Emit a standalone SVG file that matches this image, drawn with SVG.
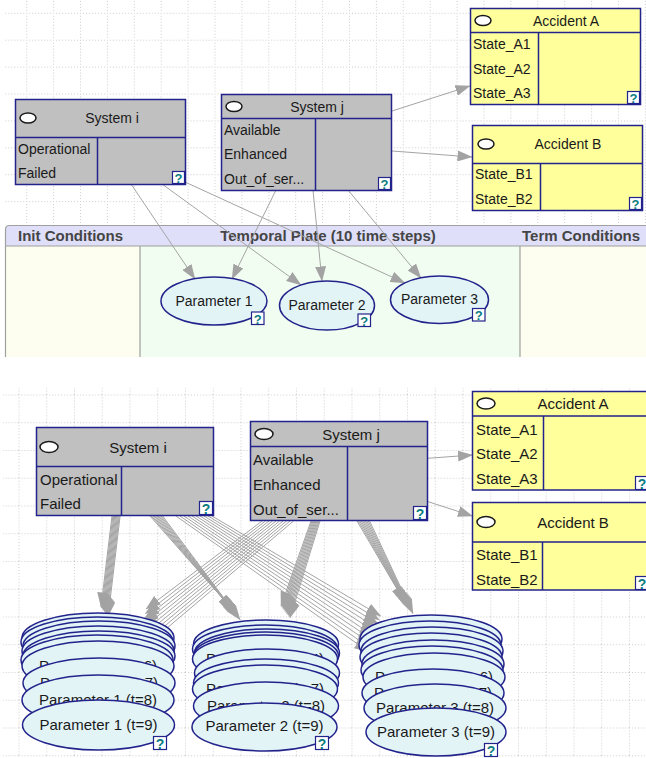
<svg xmlns="http://www.w3.org/2000/svg" width="646" height="758" viewBox="0 0 646 758">
<style>
.t{font-family:"Liberation Sans",Arial,sans-serif;fill:#1a1a1a}
.s14{font-size:14px}
.s15{font-size:15px}
.mid{text-anchor:middle}
.ph{font-family:"Liberation Sans",Arial,sans-serif;font-size:15px;font-weight:bold;fill:#454545}
.q{font-family:"Liberation Sans",Arial,sans-serif;font-weight:bold;fill:#0b7c80;text-anchor:middle}
.sys{fill:#c0c0c0;stroke:#23238c;stroke-width:1.5}
.acc{fill:#ffff9c;stroke:#23238c;stroke-width:1.5}
.sep{fill:none;stroke:#23238c;stroke-width:1.5}
.par{fill:#e3f4f7;stroke:#23238c;stroke-width:1.5}
.qb{fill:#ffffff;stroke:#23238c;stroke-width:1.2}
.oval{fill:#ffffff;stroke:#1a1a1a;stroke-width:1.5}
.ln{stroke:#a4a4a4;stroke-width:1;fill:none;marker-end:url(#ah)}
.pl{stroke:#a0a0a0;stroke-width:1.2;fill:none}
</style>
<defs>
<marker id="ah" viewBox="0 0 15 11" refX="14.5" refY="5.5" markerWidth="15" markerHeight="11" orient="auto" markerUnits="userSpaceOnUse">
<path d="M0,0 L15,5.5 L0,11 z" fill="#a3a3a3"/>
</marker>
<pattern id="gridT" x="26.2" y="12.8" width="26.9" height="26.9" patternUnits="userSpaceOnUse">
<path d="M0,0.5 H26.9 M0.5,0 V26.9" stroke="#cdcdcd" stroke-width="1" stroke-dasharray="1 2" fill="none"/>
</pattern>
<pattern id="gridB" x="18.5" y="394.5" width="27.75" height="27.75" patternUnits="userSpaceOnUse">
<path d="M0,0.5 H27.75 M0.5,0 V27.75" stroke="#cdcdcd" stroke-width="1" stroke-dasharray="1 2" fill="none"/>
</pattern>
</defs>
<rect x="0" y="0" width="646" height="758" fill="#ffffff"/>
<rect x="4" y="0" width="642" height="225" fill="url(#gridT)"/>
<rect x="3" y="388" width="643" height="370" fill="url(#gridB)"/>

<g id="plate">
<rect x="5.5" y="246" width="134.5" height="111" fill="#fefef0"/>
<rect x="140" y="246" width="380" height="111" fill="#f0fdf0"/>
<rect x="520" y="246" width="126" height="111" fill="#fefef0"/>
<path d="M5.5,246 V229.5 Q5.5,225.5 9.5,225.5 H646 V246 Z" fill="#dfdff9"/>
<path class="pl" d="M5.5,357 V229.5 Q5.5,225.5 9.5,225.5 H646 M5.5,246 H646 M140,246 V357 M520,246 V357"/>
<text class="ph" x="18" y="240.5">Init Conditions</text>
<text class="ph" x="328" y="240.5" text-anchor="middle">Temporal Plate (10 time steps)</text>
<text class="ph" x="522" y="240.5">Term Conditions</text>
</g>

<g id="connectors">
<line class="ln" x1="392" y1="111" x2="470" y2="86"/>
<line class="ln" x1="392" y1="151" x2="472" y2="157"/>
<line class="ln" x1="131" y1="184" x2="195" y2="279"/>
<line class="ln" x1="276" y1="190" x2="232" y2="279"/>
<line class="ln" x1="162" y1="184" x2="301" y2="285"/>
<line class="ln" x1="313" y1="190" x2="322" y2="281"/>
<line class="ln" x1="185" y1="182" x2="405" y2="283"/>
<line class="ln" x1="348" y1="190" x2="421" y2="278"/>

<line class="ln" x1="427.5" y1="458.3" x2="472.5" y2="455"/>
<line class="ln" x1="427.5" y1="501.5" x2="472.5" y2="516"/>

<line class="ln" x1="112" y1="516" x2="101" y2="607"/>
<line class="ln" x1="112.9" y1="516" x2="101.8" y2="608"/>
<line class="ln" x1="113.8" y1="516" x2="102.6" y2="609"/>
<line class="ln" x1="114.7" y1="516" x2="103.4" y2="610"/>
<line class="ln" x1="115.6" y1="516" x2="104.2" y2="611"/>
<line class="ln" x1="116.5" y1="516" x2="105" y2="612"/>
<line class="ln" x1="117.4" y1="516" x2="105.8" y2="613"/>
<line class="ln" x1="118.3" y1="516" x2="106.6" y2="614"/>
<line class="ln" x1="119.2" y1="516" x2="107.4" y2="615"/>
<line class="ln" x1="120.1" y1="516" x2="108.2" y2="616"/>

<line class="ln" x1="150" y1="516" x2="232" y2="609"/>
<line class="ln" x1="151.4" y1="516" x2="232.9" y2="610.2"/>
<line class="ln" x1="152.8" y1="516" x2="233.8" y2="611.4"/>
<line class="ln" x1="154.2" y1="516" x2="234.7" y2="612.6"/>
<line class="ln" x1="155.6" y1="516" x2="235.6" y2="613.8"/>
<line class="ln" x1="157" y1="516" x2="236.5" y2="615"/>
<line class="ln" x1="158.4" y1="516" x2="237.4" y2="616.2"/>
<line class="ln" x1="159.8" y1="516" x2="238.3" y2="617.4"/>
<line class="ln" x1="161.2" y1="516" x2="239.2" y2="618.6"/>
<line class="ln" x1="162.6" y1="516" x2="240.1" y2="619.8"/>

<line class="ln" x1="176" y1="516" x2="369" y2="652"/>
<line class="ln" x1="180" y1="516" x2="370.3" y2="648"/>
<line class="ln" x1="184" y1="516" x2="371.6" y2="644"/>
<line class="ln" x1="188" y1="516" x2="372.9" y2="640"/>
<line class="ln" x1="192" y1="516" x2="374.2" y2="636"/>
<line class="ln" x1="196" y1="516" x2="375.5" y2="632"/>
<line class="ln" x1="200" y1="516" x2="376.8" y2="628"/>
<line class="ln" x1="204" y1="516" x2="378.1" y2="624"/>
<line class="ln" x1="208" y1="516" x2="379.4" y2="620"/>
<line class="ln" x1="212" y1="516" x2="380.7" y2="616"/>

<line class="ln" x1="262" y1="521" x2="146" y2="609"/>
<line class="ln" x1="265.5" y1="521" x2="145.4" y2="613.6"/>
<line class="ln" x1="269" y1="521" x2="144.8" y2="618.2"/>
<line class="ln" x1="272.5" y1="521" x2="144.2" y2="622.8"/>
<line class="ln" x1="276" y1="521" x2="143.6" y2="627.4"/>
<line class="ln" x1="279.5" y1="521" x2="143" y2="632"/>
<line class="ln" x1="283" y1="521" x2="142.4" y2="636.6"/>
<line class="ln" x1="286.5" y1="521" x2="141.8" y2="641.2"/>
<line class="ln" x1="290" y1="521" x2="141.2" y2="645.8"/>
<line class="ln" x1="293.5" y1="521" x2="140.6" y2="650.4"/>

<line class="ln" x1="311" y1="521" x2="281" y2="606"/>
<line class="ln" x1="312" y1="521" x2="282" y2="607.3"/>
<line class="ln" x1="313" y1="521" x2="283" y2="608.6"/>
<line class="ln" x1="314" y1="521" x2="284" y2="609.9"/>
<line class="ln" x1="315" y1="521" x2="285" y2="611.2"/>
<line class="ln" x1="316" y1="521" x2="286" y2="612.5"/>
<line class="ln" x1="317" y1="521" x2="287" y2="613.8"/>
<line class="ln" x1="318" y1="521" x2="288" y2="615.1"/>
<line class="ln" x1="319" y1="521" x2="289" y2="616.4"/>
<line class="ln" x1="320" y1="521" x2="290" y2="617.7"/>

<line class="ln" x1="357" y1="521" x2="404" y2="601"/>
<line class="ln" x1="358.4" y1="521" x2="405" y2="602.4"/>
<line class="ln" x1="359.8" y1="521" x2="406" y2="603.8"/>
<line class="ln" x1="361.2" y1="521" x2="407" y2="605.2"/>
<line class="ln" x1="362.6" y1="521" x2="408" y2="606.6"/>
<line class="ln" x1="364" y1="521" x2="409" y2="608"/>
<line class="ln" x1="365.4" y1="521" x2="410" y2="609.4"/>
<line class="ln" x1="366.8" y1="521" x2="411" y2="610.8"/>
<line class="ln" x1="368.2" y1="521" x2="412" y2="612.2"/>
<line class="ln" x1="369.6" y1="521" x2="413" y2="613.6"/>
</g>

<!-- top half nodes -->
<g id="system-i-top">
<rect class="sys" x="15.5" y="99.5" width="170" height="85"/>
<path class="sep" d="M15.5,137.5 H185.5 M97.5,137.5 V184.5"/>
<ellipse class="oval" cx="28" cy="118" rx="8" ry="5"/>
<text class="t s14 mid" x="112" y="123">System i</text>
<text class="t s14" x="18" y="154">Operational</text>
<text class="t s14" x="18" y="178">Failed</text>
<rect class="qb" x="172.5" y="171.5" width="12" height="12"/>
<text class="q" x="178.5" y="182.5" font-size="13">?</text>
</g>
<g id="system-j-top">
<rect class="sys" x="221.5" y="94.5" width="170" height="96"/>
<path class="sep" d="M221.5,118.5 H391.5 M315.5,118.5 V190.5"/>
<ellipse class="oval" cx="234" cy="106.5" rx="8" ry="5"/>
<text class="t s14 mid" x="317" y="111.5">System j</text>
<text class="t s14" x="224" y="135">Available</text>
<text class="t s14" x="224" y="159">Enhanced</text>
<text class="t s14" x="224" y="184">Out_of_ser...</text>
<rect class="qb" x="378.5" y="177.5" width="12" height="12"/>
<text class="q" x="384.5" y="188.5" font-size="13">?</text>
</g>
<g id="accident-a-top">
<rect class="acc" x="470.5" y="8.5" width="170" height="96"/>
<path class="sep" d="M470.5,32.5 H640.5 M538.5,32.5 V104.5"/>
<ellipse class="oval" cx="483" cy="20.5" rx="8" ry="5"/>
<text class="t s14 mid" x="566" y="25.5">Accident A</text>
<text class="t s14" x="473" y="49">State_A1</text>
<text class="t s14" x="473" y="74">State_A2</text>
<text class="t s14" x="473" y="98">State_A3</text>
<rect class="qb" x="627.5" y="91.5" width="12" height="12"/>
<text class="q" x="633.5" y="102.5" font-size="13">?</text>
</g>
<g id="accident-b-top">
<rect class="acc" x="472.5" y="125.5" width="170" height="85"/>
<path class="sep" d="M472.5,163.5 H642.5 M540.5,163.5 V210.5"/>
<ellipse class="oval" cx="486" cy="144" rx="8" ry="5"/>
<text class="t s14 mid" x="568" y="149">Accident B</text>
<text class="t s14" x="475" y="179">State_B1</text>
<text class="t s14" x="475" y="204">State_B2</text>
<rect class="qb" x="629.5" y="197.5" width="12" height="12"/>
<text class="q" x="635.5" y="208.5" font-size="13">?</text>
</g>
<g id="parameter-1-top">
<ellipse class="par" cx="214" cy="301" rx="53" ry="24"/>
<text class="t s14 mid" x="214" y="306">Parameter 1</text>
<rect class="qb" x="251.5" y="312" width="12.5" height="12.5"/>
<text class="q" x="257.75" y="323.5" font-size="13">?</text>
</g>
<g id="parameter-2-top">
<ellipse class="par" cx="327" cy="305.5" rx="47.5" ry="24.5"/>
<text class="t s14 mid" x="327" y="309.5">Parameter 2</text>
<rect class="qb" x="358" y="314" width="12.5" height="12.5"/>
<text class="q" x="364.25" y="325.5" font-size="13">?</text>
</g>
<g id="parameter-3-top">
<ellipse class="par" cx="439.5" cy="299.7" rx="49" ry="23.7"/>
<text class="t s14 mid" x="439.5" y="303.5">Parameter 3</text>
<rect class="qb" x="472.5" y="308.5" width="12.5" height="12.5"/>
<text class="q" x="478.75" y="320" font-size="13">?</text>
</g>

<!-- bottom half nodes -->
<g id="system-i-bottom">
<rect class="sys" x="36.5" y="427.5" width="177" height="88"/>
<path class="sep" d="M36.5,466.5 H213.5 M121.5,466.5 V515.5"/>
<ellipse class="oval" cx="49" cy="447" rx="9" ry="5.5"/>
<text class="t s15 mid" x="138" y="452.5">System i</text>
<text class="t s15" x="40" y="484.5">Operational</text>
<text class="t s15" x="40" y="508.5">Failed</text>
<rect class="qb" x="199.5" y="501.5" width="13" height="13"/>
<text class="q" x="206" y="513.5" font-size="14">?</text>
</g>
<g id="system-j-bottom">
<rect class="sys" x="250.5" y="421.5" width="177" height="99"/>
<path class="sep" d="M250.5,446.5 H427.5 M347.5,446.5 V520.5"/>
<ellipse class="oval" cx="264" cy="434" rx="9" ry="5.5"/>
<text class="t s15 mid" x="351" y="439.5">System j</text>
<text class="t s15" x="253" y="464.5">Available</text>
<text class="t s15" x="253" y="489.5">Enhanced</text>
<text class="t s15" x="253" y="514.5">Out_of_ser...</text>
<rect class="qb" x="413.5" y="506.5" width="13" height="13"/>
<text class="q" x="420" y="518.5" font-size="14">?</text>
</g>
<g id="accident-a-bottom">
<rect class="acc" x="472.5" y="391.5" width="178" height="98.5"/>
<path class="sep" d="M472.5,416 H650 M543.5,416 V490"/>
<ellipse class="oval" cx="486" cy="403.5" rx="9" ry="5.5"/>
<text class="t s15 mid" x="573" y="409">Accident A</text>
<text class="t s15" x="476" y="434.5">State_A1</text>
<text class="t s15" x="476" y="458.5">State_A2</text>
<text class="t s15" x="476" y="484">State_A3</text>
<rect class="qb" x="635.5" y="476.5" width="13" height="13"/>
<text class="q" x="642" y="488.5" font-size="14">?</text>
</g>
<g id="accident-b-bottom">
<rect class="acc" x="472.5" y="502.5" width="178" height="87.5"/>
<path class="sep" d="M472.5,542 H650 M542.5,542 V590"/>
<ellipse class="oval" cx="486" cy="522" rx="9" ry="5.5"/>
<text class="t s15 mid" x="573" y="527.5">Accident B</text>
<text class="t s15" x="476" y="559.5">State_B1</text>
<text class="t s15" x="476" y="584.5">State_B2</text>
<rect class="qb" x="635.5" y="576.5" width="13" height="13"/>
<text class="q" x="642" y="588.5" font-size="14">?</text>
</g>

<!-- Parameter 1 stack -->
<g id="p1-t0"><ellipse class="par" cx="98" cy="638" rx="76" ry="25"/></g>
<g id="p1-t1"><ellipse class="par" cx="97" cy="642" rx="76" ry="25"/></g>
<g id="p1-t2"><ellipse class="par" cx="99" cy="646" rx="76" ry="25"/></g>
<g id="p1-t3"><ellipse class="par" cx="98" cy="651" rx="76" ry="25"/></g>
<g id="p1-t4"><ellipse class="par" cx="99" cy="656" rx="76" ry="25"/></g>
<g id="p1-t5"><ellipse class="par" cx="97" cy="660" rx="76" ry="25"/></g>
<g id="p1-t6"><ellipse class="par" cx="98" cy="666" rx="76" ry="25"/><text class="t s15 mid" x="98" y="671">Parameter 1 (t=6)</text></g>
<g id="p1-t7"><ellipse class="par" cx="99" cy="683" rx="76" ry="25"/><text class="t s15 mid" x="99" y="688">Parameter 1 (t=7)</text></g>
<g id="p1-t8"><ellipse class="par" cx="98" cy="700" rx="76" ry="25"/><text class="t s15 mid" x="98" y="705">Parameter 1 (t=8)</text></g>
<g id="p1-t9"><ellipse class="par" cx="98.5" cy="725" rx="76" ry="25"/><text class="t s15 mid" x="98.5" y="730">Parameter 1 (t=9)</text>
<rect class="qb" x="153.5" y="736.5" width="13" height="13"/><text class="q" x="160" y="748.5" font-size="14">?</text></g>

<!-- Parameter 2 stack -->
<g id="p2-t0"><ellipse class="par" cx="266" cy="644" rx="72.5" ry="24"/></g>
<g id="p2-t1"><ellipse class="par" cx="265" cy="649" rx="72.5" ry="24"/></g>
<g id="p2-t2"><ellipse class="par" cx="267" cy="653" rx="72.5" ry="24"/></g>
<g id="p2-t3"><ellipse class="par" cx="266" cy="656" rx="72.5" ry="24"/></g>
<g id="p2-t4"><ellipse class="par" cx="265" cy="659" rx="72.5" ry="24"/><text class="t s15 mid" x="265" y="664">Parameter 2 (t=4)</text></g>
<g id="p2-t5"><ellipse class="par" cx="267" cy="673" rx="72.5" ry="24"/><text class="t s15 mid" x="267" y="678">Parameter 2 (t=5)</text></g>
<g id="p2-t6"><ellipse class="par" cx="266" cy="683" rx="72.5" ry="24"/></g>
<g id="p2-t7"><ellipse class="par" cx="265" cy="689" rx="72.5" ry="24"/><text class="t s15 mid" x="265" y="694">Parameter 2 (t=7)</text></g>
<g id="p2-t8"><ellipse class="par" cx="266" cy="706" rx="72.5" ry="24"/><text class="t s15 mid" x="266" y="711">Parameter 2 (t=8)</text></g>
<g id="p2-t9"><ellipse class="par" cx="264.5" cy="727" rx="72.5" ry="24"/><text class="t s15 mid" x="264.5" y="731">Parameter 2 (t=9)</text>
<rect class="qb" x="315.5" y="736.5" width="13" height="13"/><text class="q" x="322" y="748.5" font-size="14">?</text></g>

<!-- Parameter 3 stack -->
<g id="p3-t0"><ellipse class="par" cx="431" cy="639" rx="71" ry="24"/></g>
<g id="p3-t1"><ellipse class="par" cx="430" cy="645" rx="71" ry="24"/></g>
<g id="p3-t2"><ellipse class="par" cx="432" cy="651" rx="71" ry="24"/></g>
<g id="p3-t3"><ellipse class="par" cx="431" cy="657" rx="71" ry="24"/></g>
<g id="p3-t4"><ellipse class="par" cx="433" cy="664" rx="71" ry="24"/></g>
<g id="p3-t5"><ellipse class="par" cx="432" cy="670" rx="71" ry="24"/></g>
<g id="p3-t6"><ellipse class="par" cx="434" cy="677" rx="71" ry="24"/><text class="t s15 mid" x="434" y="682">Parameter 3 (t=6)</text></g>
<g id="p3-t7"><ellipse class="par" cx="433" cy="693" rx="71" ry="24"/><text class="t s15 mid" x="433" y="698">Parameter 3 (t=7)</text></g>
<g id="p3-t8"><ellipse class="par" cx="435" cy="708" rx="71" ry="24"/><text class="t s15 mid" x="435" y="713">Parameter 3 (t=8)</text></g>
<g id="p3-t9"><ellipse class="par" cx="436" cy="732" rx="70" ry="24"/><text class="t s15 mid" x="436" y="737">Parameter 3 (t=9)</text>
<rect class="qb" x="484.5" y="743.5" width="13" height="13"/><text class="q" x="491" y="755.5" font-size="14">?</text></g>
</svg>
